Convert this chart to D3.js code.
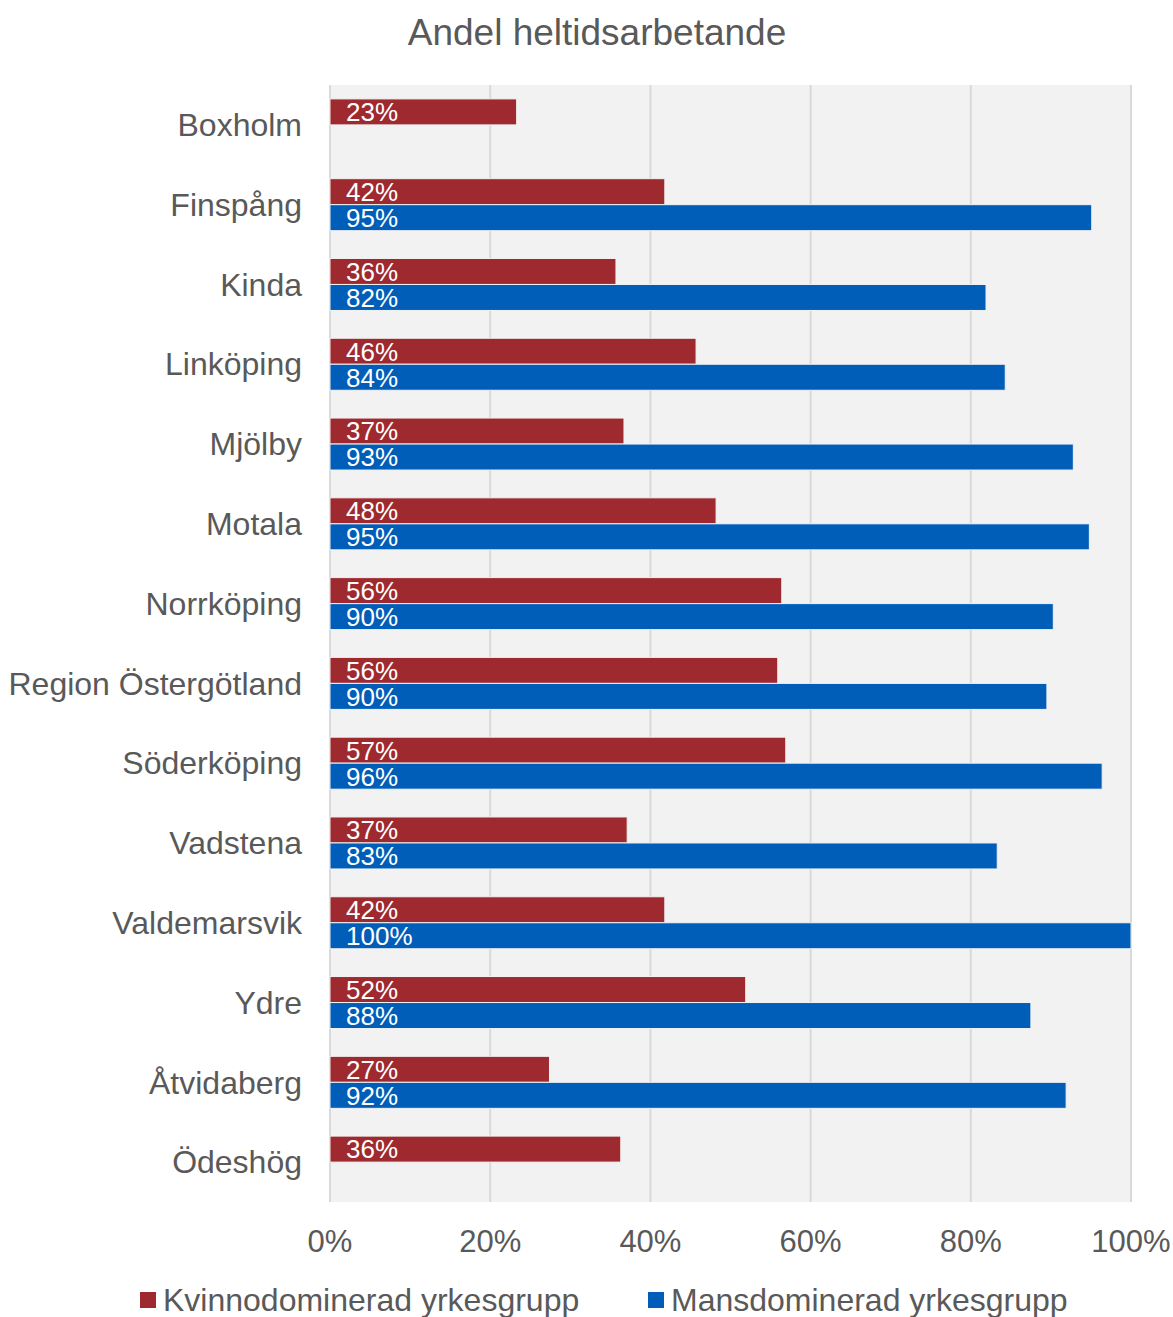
<!DOCTYPE html>
<html>
<head>
<meta charset="utf-8">
<script src="https://cdn.jsdelivr.net/npm/d3@7"></script>
<style>
  body { margin: 0; background: #fff; }
  text { font-family: "Liberation Sans", Arial, sans-serif; }
</style>
</head>
<body>
<svg id="chart" width="1173" height="1317"></svg>
<script>
"use strict";

let categories = ["Boxholm", "Finspång", "Kinda", "Linköping", "Mjölby", "Motala", "Norrköping",
  "Region Östergötland", "Söderköping", "Vadstena", "Valdemarsvik", "Ydre", "Åtvidaberg", "Ödeshög"];

// null = no bar
let kvinno = [0.233, 0.418, 0.357, 0.457, 0.367, 0.482, 0.564, 0.559, 0.569, 0.371, 0.418, 0.519, 0.274, 0.363];
let mans = [null, 0.951, 0.819, 0.843, 0.928, 0.948, 0.903, 0.895, 0.964, 0.833, 1.0, 0.875, 0.919, null];

let ticks = [0, 0.2, 0.4, 0.6, 0.8, 1.0];
let seriesNames = ["Kvinnodominerad yrkesgrupp", "Mansdominerad yrkesgrupp"];
let colors = ["#9e2a2f", "#005eb8"];

let svg = d3.select("#chart");
let plotL = 330, plotR = 1131, plotT = 85, plotB = 1202;

let x = d3.scaleLinear().domain([0, 1]).range([plotL, plotR]);
let y = d3.scaleBand().domain(categories).range([plotT, plotB]).paddingInner(0).paddingOuter(0);
let barH = 26;

svg.append("rect")
  .attr("x", plotL).attr("y", plotT)
  .attr("width", plotR - plotL).attr("height", plotB - plotT)
  .style("fill", "#f2f2f2");

// grid
svg.append("g").selectAll("line").data(ticks).enter().append("line")
  .attr("x1", d => x(d)).attr("x2", d => x(d))
  .attr("y1", plotT).attr("y2", plotB)
  .style("stroke", "#d9d9d9").style("stroke-width", 2);

svg.append("text")
  .attr("x", 597).attr("y", 45)
  .attr("text-anchor", "middle")
  .style("font-size", "37px").style("fill", "#595959")
  .text("Andel heltidsarbetande");

let rows = categories.map((c, i) => ({ name: c, vals: [kvinno[i], mans[i]] }));

let g = svg.append("g").selectAll("g").data(rows).enter().append("g")
  .attr("transform", d => `translate(0,${y(d.name) + y.bandwidth() / 2})`);

g.append("text")
  .attr("x", 302).attr("y", 0).attr("dy", "0.35em")
  .attr("text-anchor", "end")
  .style("font-size", "32px").style("fill", "#595959")
  .text(d => d.name);

let bars = g.selectAll("g.bar").data(d => d.vals.map((v, k) => ({ v: v, k: k })).filter(e => e.v != null))
  .enter().append("g").attr("class", "bar");

bars.append("rect")
  .attr("x", x(0))
  .attr("y", d => d.k === 0 ? -barH : 0)
  .attr("width", d => x(d.v) - x(0))
  .attr("height", barH)
  .style("fill", d => colors[d.k])
  .style("stroke", "#f2f2f2").style("stroke-width", 1);

bars.append("text")
  .attr("x", x(0) + 16)
  .attr("y", d => d.k === 0 ? -barH / 2 : barH / 2)
  .attr("dy", "0.36em")
  .style("font-size", "26px").style("fill", "#fff")
  .text(d => Math.round(d.v * 100) + "%");

// x axis labels
svg.append("g").selectAll("text").data(ticks).enter().append("text")
  .attr("x", d => x(d)).attr("y", 1252)
  .attr("text-anchor", "middle")
  .style("font-size", "31px").style("fill", "#595959")
  .text(d => Math.round(d * 100) + "%");

// legend
let legX = [140, 648];
let leg = svg.append("g").selectAll("g").data(seriesNames).enter().append("g")
  .attr("transform", (d, i) => `translate(${legX[i]},1300)`);
leg.append("rect").attr("x", 0).attr("y", -8).attr("width", 16).attr("height", 16)
  .style("fill", (d, i) => colors[i]);
leg.append("text").attr("x", 23).attr("y", 0).attr("dy", "0.35em")
  .style("font-size", "32px").style("fill", "#595959")
  .text(d => d);
</script>
</body>
</html>
